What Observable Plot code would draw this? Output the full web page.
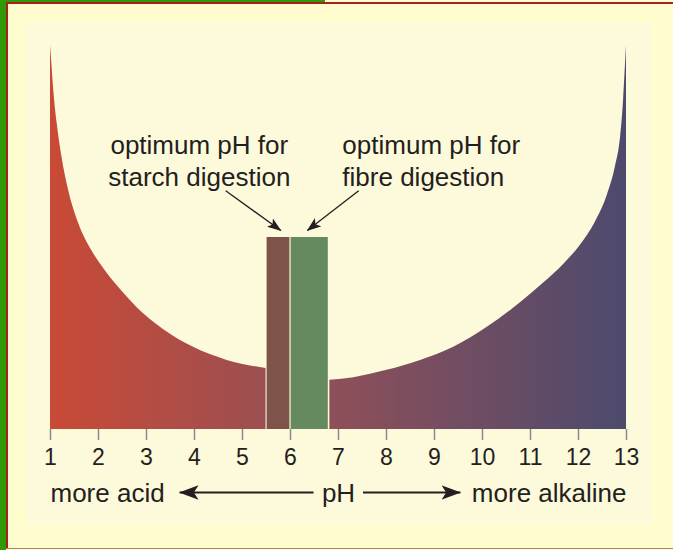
<!DOCTYPE html>
<html>
<head>
<meta charset="utf-8">
<script src="https://cdn.jsdelivr.net/npm/d3@7"></script>
<script src="https://cdn.jsdelivr.net/npm/@observablehq/plot@0.6"></script>
<style>
  body { margin: 0; background: #fffccd; }
  #frame { position: relative; width: 673px; height: 550px; overflow: hidden; background: #fffccd; font-family: "Liberation Sans", Arial, sans-serif; }
  .green { position: absolute; left: 0; top: 0; width: 6px; height: 550px; background: #2f9a05; }
  .greentop { position: absolute; left: 0; top: 0; width: 325px; height: 2px; background: #2f9a05; }
  .redL { position: absolute; left: 6px; top: 2px; width: 1.5px; height: 547px; background: #a3231f; }
  .redT { position: absolute; left: 6px; top: 2px; width: 667px; height: 1.5px; background: #a3231f; }
  .bottomLine { position: absolute; left: 6px; top: 548px; width: 667px; height: 1px; background: #b5806a; }
  .panel { position: absolute; left: 26px; top: 22px; width: 626px; height: 503px; background: #fdf9db; }
  #chart { position: absolute; left: 0; top: 0; }
  #chart [aria-label="x-axis tick"] path, #chart [aria-label="x-axis"] line { stroke: #8c8c8c; stroke-width: 1.5px; }
  #chart [aria-label="x-axis tick label"], #chart [aria-label="x-axis"] text { fill: #231f20; font-size: 23px; }
</style>
</head>
<body>
<div id="frame">
  <div class="green"></div>
  <div class="greentop"></div>
  <div class="redL"></div>
  <div class="redT"></div>
  <div class="bottomLine"></div>
  <div class="panel"></div>
  <div id="chart"></div>
</div>
<script>
// ---- data ----
// acid side of the curve (pH, relative level 0-100)
const acidPH  = [1, 1.03, 1.07, 1.14, 1.24, 1.38, 1.59, 1.87, 2.15, 2.49, 2.8, 3.36, 3.98, 4.68, 5.49];
const acidVal = [100, 95, 88, 79.6, 70.9, 62.2, 53.6, 46.4, 41.2, 36.0, 31.8, 26.0, 21.4, 18, 15.9];
// alkaline side of the curve
const alkPH  = [6.82, 7.32, 8.01, 8.71, 9.40, 10.10, 10.79, 11.28, 11.69, 12.04, 12.35, 12.60, 12.77, 12.875, 12.94, 12.97, 13];
const alkVal = [12.8, 13.5, 15.4, 18, 21.4, 26.6, 33, 38.2, 43, 48, 54, 61, 68.5, 76, 86, 93, 100];
// optimum pH bars
const barNames = ["starch", "fibre"];
const barFrom  = [5.5, 6.0];
const barTo    = [6.0, 6.8];
const barVal   = [50, 50];
const barColors = ["#7e5349", "#668a5f"];
// tick labels
const phTicks = [1, 2, 3, 4, 5, 6, 7, 8, 9, 10, 11, 12, 13];
// annotations
const noteText = ["optimum pH for\nstarch digestion", "optimum pH for\nfibre digestion"];
const noteX = [4.10, 7.08];
const noteY = [70.26, 70.26];
const noteArrowFrom = [[4.65, 62.2], [7.42, 62.2]];
const noteArrowTo   = [[5.80, 51.8], [6.35, 51.8]];
// scale labels below the axis
const scaleLabels = ["more acid", "pH", "more alkaline"];
const scaleLabelX = [1, 7, 13];
const scaleArrowFrom = [6.48, 7.51];
const scaleArrowTo   = [3.69, 9.54];

// ---- tables ----
const acid = acidPH.map((x, i) => ({x, y: acidVal[i]}));
const alk = alkPH.map((x, i) => ({x, y: alkVal[i]}));
const bars = barNames.map((name, i) => ({name, x1: barFrom[i], x2: barTo[i], y: barVal[i]}));
const notes = noteText.map((text, i) => ({text, x: noteX[i], y: noteY[i]}));
const noteArrows = noteArrowFrom.map((f, i) => ({x1: f[0], y1: f[1], x2: noteArrowTo[i][0], y2: noteArrowTo[i][1]}));
const labels = scaleLabels.map((text, i) => ({text, x: scaleLabelX[i], y: 0}));
const scaleArrows = scaleArrowFrom.map((x1, i) => ({x1, x2: scaleArrowTo[i], y: 0}));

const FONT = "'Liberation Sans', Arial, Helvetica, sans-serif";
const INK = "#231f20";

const plot = Plot.plot({
  width: 673,
  height: 520,
  marginLeft: 50,
  marginRight: 47,
  marginTop: 45,
  marginBottom: 91,
  style: {background: "transparent", fontFamily: FONT, fontSize: "23px", color: INK, overflow: "visible"},
  x: {domain: [1, 13], ticks: phTicks, tickSize: 11, tickPadding: 8, tickFormat: d => String(d), label: null},
  y: {domain: [0, 100], axis: null},
  color: {domain: barNames, range: barColors},
  marks: [
    Plot.areaY(acid, {x: "x", y: "y", curve: "monotone-x", fill: "url(#phGrad)"}),
    Plot.areaY(alk, {x: "x", y: "y", curve: "monotone-x", fill: "url(#phGrad)"}),
    Plot.rectY(bars, {x1: "x1", x2: "x2", y: "y", fill: "name", insetLeft: 0.6, insetRight: 0.6}),
    Plot.text(notes.slice(0, 1), {x: "x", y: "y", text: "text", textAnchor: "middle", lineAnchor: "middle", lineHeight: 1.216, fontSize: 26, fill: INK}),
    Plot.text(notes.slice(1), {x: "x", y: "y", text: "text", textAnchor: "start", lineAnchor: "middle", lineHeight: 1.216, fontSize: 26, fill: INK}),
    Plot.link(noteArrows, {x1: "x1", y1: "y1", x2: "x2", y2: "y2", stroke: INK, strokeWidth: 1.3}),
    Plot.text(labels.slice(0, 1), {x: "x", y: "y", text: "text", textAnchor: "start", fontSize: 26, fill: INK, dy: 64}),
    Plot.text(labels.slice(1, 2), {x: "x", y: "y", text: "text", textAnchor: "middle", fontSize: 26, fill: INK, dy: 64}),
    Plot.text(labels.slice(2), {x: "x", y: "y", text: "text", textAnchor: "end", fontSize: 26, fill: INK, dy: 64}),
    Plot.link(scaleArrows, {x1: "x1", x2: "x2", y1: "y", y2: "y", stroke: INK, strokeWidth: 1.8, dy: 63})
  ]
});

document.getElementById("chart").appendChild(plot);

// gradient + filled arrowheads
const xs = plot.scale("x");
const svg = d3.select(plot);
const defs = svg.insert("defs", ":first-child");
const grad = defs.append("linearGradient")
  .attr("id", "phGrad")
  .attr("gradientUnits", "userSpaceOnUse")
  .attr("x1", xs.apply(1)).attr("x2", xs.apply(13))
  .attr("y1", 0).attr("y2", 0);
[[0, "#c94a36"], [0.45, "#935057"], [1, "#4d4a6d"]].forEach(([o, c]) =>
  grad.append("stop").attr("offset", o).attr("stop-color", c));
const marker = defs.append("marker")
  .attr("id", "ah")
  .attr("viewBox", "0 0 11 8")
  .attr("refX", 10.5).attr("refY", 4)
  .attr("markerWidth", 11).attr("markerHeight", 8)
  .attr("markerUnits", "strokeWidth")
  .attr("orient", "auto");
marker.append("path").attr("d", "M0,0L11,4L0,8L2.6,4Z").attr("fill", INK);
svg.selectAll('g[aria-label="link"] path').attr("marker-end", "url(#ah)");
</script>
</body>
</html>
